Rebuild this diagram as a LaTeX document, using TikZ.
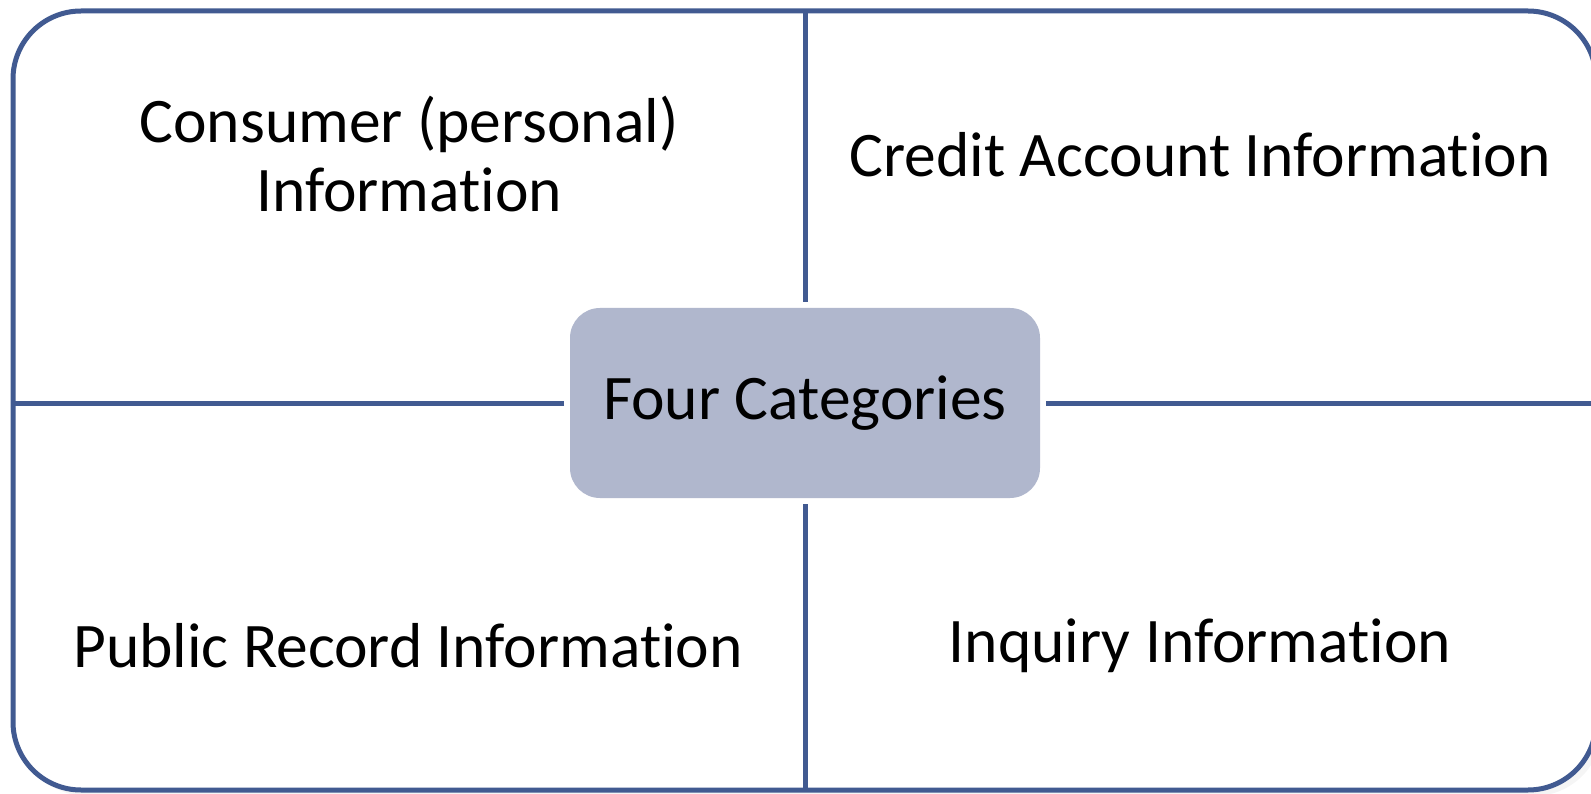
\documentclass[tikz,border=0pt]{standalone}
\usepackage{fontspec}
\setmainfont{Carlito}[RawFeature=-liga]
\definecolor{frameblue}{RGB}{65,90,145}
\definecolor{boxfill}{RGB}{176,183,205}
\begin{document}
\begin{tikzpicture}[x=1pt,y=-1pt,
  lbl/.style={font=\fontsize{63.5}{69}\selectfont, align=center, inner sep=0pt},
  link/.style={draw=frameblue, line width=5pt}]
\useasboundingbox (0,0) rectangle (1591,794);
% faint shadow
\fill[black!4, rounded corners=68pt] (19,17) rectangle (1602,796);
% frame
\draw[frameblue, line width=5pt, fill=white, rounded corners=68pt] (13,11) rectangle (1596,790);
% frame anchor points
\coordinate (ftop) at (805,11);
\coordinate (fbot) at (805,790);
\coordinate (fleft) at (13,403);
\coordinate (fright) at (1596,403);
% centre node
\node[fill=boxfill, rounded corners=30pt, minimum width=470pt, minimum height=190pt,
      outer sep=6pt, lbl] (cat) at (805,403) {Four Categories};
% connectors
\draw[link] (cat.north) -- (ftop);
\draw[link] (cat.south) -- (fbot);
\draw[link] (cat.west) -- (fleft);
\draw[link] (cat.east) -- (fright);
% labels
\node[lbl] (consumer) at (409,154) {Consumer (personal)\\Information};
\node[lbl] (credit) at (1200,155) {Credit Account Information};
\node[lbl] (public) at (408,646) {Public Record Information};
\node[lbl] (inquiry) at (1200,646) {Inquiry Information};
\end{tikzpicture}
\end{document}
